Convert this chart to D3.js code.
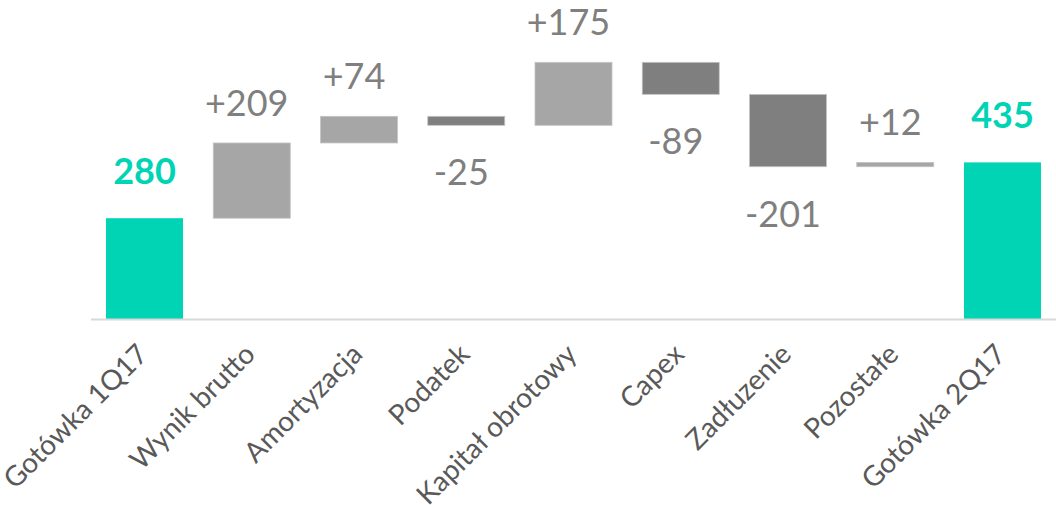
<!DOCTYPE html>
<html>
<head>
<meta charset="utf-8">
<script src="https://cdn.jsdelivr.net/npm/d3@7"></script>
<style>
  html, body { margin: 0; padding: 0; background: #ffffff; }
  svg { display: block; }
</style>
</head>
<body>
<svg id="chart" width="1056" height="505"></svg>
<script>
// Cash bridge 1Q17 -> 2Q17
const categories = ["Gotówka 1Q17", "Wynik brutto", "Amortyzacja", "Podatek",
  "Kapitał obrotowy", "Capex", "Zadłuzenie", "Pozostałe", "Gotówka 2Q17"];
const changes = [280, 209, 74, -25, 175, -89, -201, 12, 435];
const isTotal = [true, false, false, false, false, false, false, false, true];

const W = 1056, H = 505;
const axisY = 319;

const colors = { total: "#00D4B4", up: "#A6A6A6", down: "#7F7F7F" };

// running start/end for every step
let run = 0;
const rows = categories.map((c, i) => {
  let start, end;
  if (isTotal[i]) { start = 0; end = changes[i]; run = changes[i]; }
  else { start = run; end = run + changes[i]; run = end; }
  return { cat: c, value: changes[i], total: isTotal[i], lo: Math.min(start, end), hi: Math.max(start, end) };
});

const svg = d3.select("#chart");

const x = d3.scaleBand().domain(categories).range([91, W]).paddingInner(0.282).paddingOuter(0.14);
const y = d3.scaleLinear().domain([0, 800]).range([axisY, 31]);

// bars
svg.append("g").selectAll("rect").data(rows).join("rect")
  .attr("x", d => x(d.cat))
  .attr("width", x.bandwidth())
  .attr("y", d => y(d.hi))
  .attr("height", d => y(d.lo) - y(d.hi))
  .attr("fill", d => d.total ? colors.total : (d.value >= 0 ? colors.up : colors.down))
  .attr("stroke", d => d.total ? "none" : "#c4c4c4")
  .attr("stroke-width", 0.8);

// category axis
const axis = svg.append("g")
  .attr("transform", `translate(0,${axisY})`)
  .call(d3.axisBottom(x).tickSize(0).tickPadding(0));
axis.select(".domain").attr("stroke", "#d9d9d9").attr("stroke-width", 2).attr("d", `M91,0.5H${W}`);
axis.selectAll(".tick text")
  .attr("fill", "#595959")
  .attr("font-family", "Lato, 'Open Sans', sans-serif")
  .attr("font-size", 28)
  .attr("font-weight", 400)
  .attr("text-anchor", "end")
  .attr("dy", 0)
  .attr("transform", "translate(5,37) rotate(-45)")
  .attr("y", 0).attr("x", 0);

// value labels
svg.append("g").selectAll("text").data(rows).join("text")
  .attr("x", d => x(d.cat) + x.bandwidth() / 2 + (d.total ? 0 : -5))
  .attr("y", d => d.total ? y(d.hi) - 34 : (d.value >= 0 ? y(d.hi) - 27 : y(d.lo) + 60))
  .attr("text-anchor", "middle")
  .attr("font-family", "Lato, 'Open Sans', sans-serif")
  .attr("font-size", 36)
  .attr("font-weight", d => d.total ? 700 : 400)
  .attr("fill", d => d.total ? colors.total : "#7F7F7F")
  .text(d => d.total ? d3.format("d")(d.value) : (d.value > 0 ? "+" : "") + d.value);
</script>
</body>
</html>
